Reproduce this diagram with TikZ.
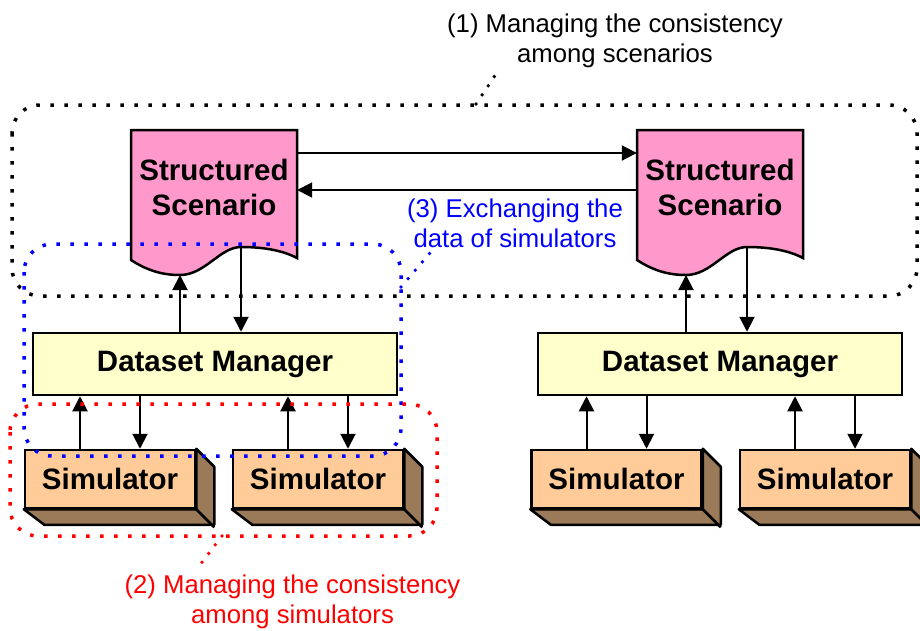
\documentclass[tikz,border=0pt]{standalone}
\usepackage{fontspec}
\setmainfont{Liberation Sans}
\usepackage{tikz}
\usetikzlibrary{arrows.meta}
\definecolor{scenpink}{HTML}{FF99CC}
\definecolor{mgryellow}{HTML}{FFFFCC}
\definecolor{simorange}{HTML}{FFCC99}
\definecolor{simbrown}{HTML}{9A7A58}

\begin{document}
\begin{tikzpicture}[x=1pt, y=-1pt,
  every node/.style={font=\fontsize{29.5}{35}\selectfont\bfseries, align=center},
  scen/.style={minimum width=166pt, inner sep=0pt},
  mgr/.style={draw, line width=2.5pt, fill=mgryellow, minimum width=364pt, minimum height=62pt},
  sim/.style={draw, line width=2.5pt, fill=simorange, minimum width=170pt, minimum height=58pt},
  arrow/.style={-{Triangle[length=15pt, width=15pt]}, line width=2pt},
  region/.style={line width=3.5pt, dash pattern=on 3.5pt off 10.5pt, rounded corners=28pt},
  callout/.style={line width=3.8pt, line cap=round, dash pattern=on 0pt off 11pt},
  note/.style={font=\fontsize{25.7}{30}\selectfont, inner sep=0pt},
]
  \useasboundingbox (0,0) rectangle (920,630);

  % structured scenarios (document shapes)
  \coordinate (ssL-lo) at (180,275);
  \coordinate (ssL-hi) at (241,247);
  \coordinate (ssR-lo) at (686,275);
  \coordinate (ssR-hi) at (747,247);
  \draw[line width=2.5pt, fill=scenpink] (131,130) -- (297,130) -- (297,258)
    .. controls (282,250) and (262,247) .. (ssL-hi)
    .. controls (220,247) and (205,275) .. (ssL-lo)
    .. controls (163,275) and (148,271) .. (131,260) -- cycle;
  \draw[line width=2.5pt, fill=scenpink] (637,130) -- (803,130) -- (803,258)
    .. controls (788,250) and (768,247) .. (ssR-hi)
    .. controls (726,247) and (711,275) .. (ssR-lo)
    .. controls (669,275) and (654,271) .. (637,260) -- cycle;
  \node[scen] (ssL) at (214,187) {Structured\\Scenario};
  \node[scen] (ssR) at (720,187) {Structured\\Scenario};

  \draw[arrow] ([yshift=34pt]ssL.east) -- ([yshift=34pt]ssR.west);
  \draw[arrow] ([yshift=-3pt]ssR.west) -- ([yshift=-3pt]ssL.east);

  % dataset managers
  \node[mgr] (dmL) at (215,364) {Dataset Manager};
  \node[mgr] (dmR) at (720,364) {Dataset Manager};

  \draw[arrow] (dmL.north -| ssL-lo) -- (ssL-lo);
  \draw[arrow] (ssL-hi) -- (dmL.north -| ssL-hi);
  \draw[arrow] (dmR.north -| ssR-lo) -- (ssR-lo);
  \draw[arrow] (ssR-hi) -- (dmR.north -| ssR-hi);

  % simulators
  \node[sim] (simL1) at (110,479) {Simulator};
  \node[sim] (simL2) at (318,479) {Simulator};
  \node[sim] (simR1) at (616.5,479) {Simulator};
  \node[sim] (simR2) at (825,479) {Simulator};

  \foreach \s/\m in {simL1/dmL, simL2/dmL, simR1/dmR, simR2/dmR} {
    \draw[line width=2.5pt, fill=simbrown, line join=round] (\s.north east) -- ++(18,18)
      -- ++(0,58) -- ++(-170,0) -- (\s.south west) -- (\s.south east) -- cycle;
    \draw[line width=2.5pt] (\s.south east) -- ++(18,18);
    \coordinate (up) at ([xshift=-30pt]\s.north);
    \coordinate (dn) at ([xshift=30pt]\s.north);
    \draw[arrow] (up) -- (up |- \m.south);
    \draw[arrow] (dn |- \m.south) -- (dn);
  }

  % consistency regions
  \draw[region] (12,105) rectangle (917,296);
  \draw[region, blue] (24,244) rectangle (401,456);
  \draw[region, red] (10,404) rectangle (437,536);

  % notes
  \node[note] (lbl1) at (615,41) {(1) Managing the consistency\\among scenarios};
  \node[note, text=blue] (lbl3) at (515,223) {(3) Exchanging the\\data of simulators};
  \node[note, text=red] (lbl2) at (292.5,602) {(2) Managing the consistency\\among simulators};

  \coordinate (c1) at (476,104);
  \coordinate (c1e) at (498,71);
  \coordinate (c3) at (401,287);
  \coordinate (c3e) at (430,253);
  \coordinate (c2) at (222,536);
  \coordinate (c2e) at (196,570);
  \draw[callout] (c1) -- (c1e);
  \draw[callout, blue] (c3) -- (c3e);
  \draw[callout, red] (c2) -- (c2e);
\end{tikzpicture}
\end{document}
